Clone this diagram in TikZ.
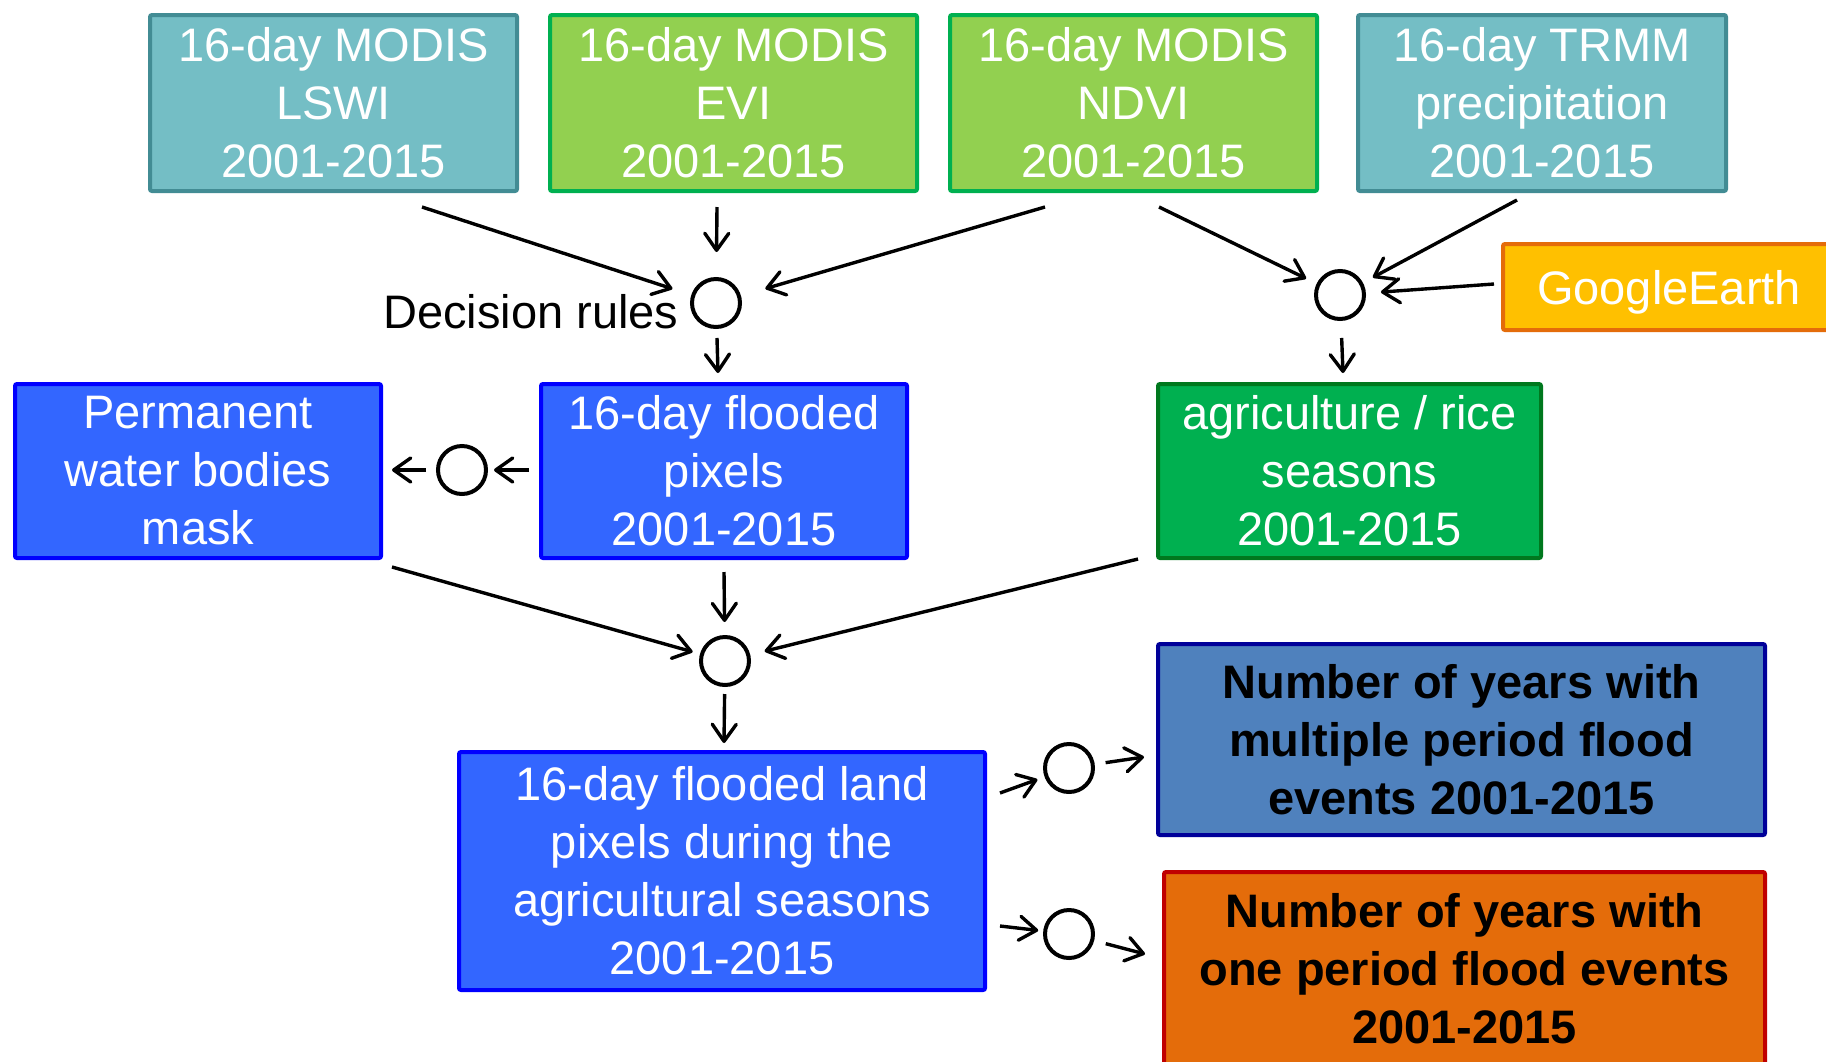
\documentclass[tikz,border=0pt]{standalone}
\usepackage{fontspec}
\setmainfont{Liberation Sans}
\usetikzlibrary{arrows.meta}
\definecolor{tealfill}{RGB}{116,190,197}
\definecolor{tealline}{RGB}{66,140,148}
\definecolor{limefill}{RGB}{146,208,80}
\definecolor{limeline}{RGB}{0,176,80}
\definecolor{goldfill}{RGB}{255,192,0}
\definecolor{goldline}{RGB}{228,108,10}
\definecolor{bluefill}{RGB}{51,102,255}
\definecolor{blueline}{RGB}{0,0,255}
\definecolor{agrifill}{RGB}{0,176,80}
\definecolor{agriline}{RGB}{0,120,30}
\definecolor{multifill}{RGB}{79,129,189}
\definecolor{multiline}{RGB}{0,0,153}
\definecolor{onefill}{RGB}{228,108,10}
\definecolor{oneline}{RGB}{192,0,0}
\begin{document}
\begin{tikzpicture}[x=0.5pt,y=-0.5pt,
  txt/.style={font=\fontsize{23.5pt}{29pt}\selectfont, align=center},
  box/.style={txt, rectangle, draw, line width=2pt, inner sep=0pt, outer sep=0pt, text=white, rounded corners=1pt},
  boldbox/.style={box, text=black, font=\fontsize{23.5pt}{29pt}\selectfont\bfseries},
  ring/.style={circle, draw=black, line width=2pt, minimum size=24pt, inner sep=0pt, outer sep=0pt},
  arr/.style={line width=1.7pt, -{Straight Barb[length=8.5pt,width=12pt,round]}},
]
\useasboundingbox[fill=white] (0,0) rectangle (1826,1061);

% boxes
\node[box, fill=tealfill, draw=tealline, minimum width=183.5pt, minimum height=88pt] (lswi) at (333.5,103) {16-day MODIS\\LSWI\\2001-2015};
\node[box, fill=limefill, draw=limeline, minimum width=183.5pt, minimum height=88pt] (evi) at (733.5,103) {16-day MODIS\\EVI\\2001-2015};
\node[box, fill=limefill, draw=limeline, minimum width=183.5pt, minimum height=88pt] (ndvi) at (1133.5,103) {16-day MODIS\\NDVI\\2001-2015};
\node[box, fill=tealfill, draw=tealline, minimum width=184pt, minimum height=88pt] (trmm) at (1542,103) {16-day TRMM\\precipitation\\2001-2015};
\node[box, fill=goldfill, draw=goldline, minimum width=166pt, minimum height=43pt, text depth=0pt] (google) at (1669,287) {GoogleEarth};
\node[box, fill=bluefill, draw=blueline, minimum width=183pt, minimum height=87pt] (perm) at (198,471) {Permanent\\water bodies\\mask};
\node[box, fill=bluefill, draw=blueline, minimum width=183pt, minimum height=87pt] (flood) at (724,471) {16-day flooded\\pixels\\2001-2015};
\node[box, fill=agrifill, draw=agriline, minimum width=191.5pt, minimum height=87pt] (agri) at (1349.5,471) {agriculture / rice\\seasons\\2001-2015};
\node[box, fill=bluefill, draw=blueline, minimum width=263pt, minimum height=119pt] (land) at (722,871) {16-day flooded land\\pixels during the\\agricultural seasons\\2001-2015};
\node[boldbox, fill=multifill, draw=multiline, minimum width=303.5pt, minimum height=95.5pt] (multi) at (1461.5,739.5) {Number of years with\\multiple period flood\\events 2001-2015};
\node[boldbox, fill=onefill, draw=oneline, minimum width=300.5pt, minimum height=97pt] (one) at (1464.5,969) {Number of years with\\one period flood events\\2001-2015};

% circles
\node[ring] (dr) at (716,303) {};
\node[ring] (rc) at (1340,295) {};
\node[ring] (lc) at (462,470) {};
\node[ring] (mc) at (725,661) {};
\node[ring] (ca) at (1069,768) {};
\node[ring] (cb) at (1069,934) {};

\node[txt, anchor=base east, inner sep=0pt] (drlabel) at (679,328) {Decision rules};

% connector end points
\coordinate (lswiout) at (422,207);
\coordinate (eviout) at (717,207);
\coordinate (ndviouta) at (1045,207);
\coordinate (ndvioutb) at (1159,207);
\coordinate (trmmout) at (1517,200);
\coordinate (googleout) at (1494,284);
\coordinate (floodin) at (718,373);
\coordinate (agriin) at (1343,373);
\coordinate (floodoutl) at (529,470);
\coordinate (permin) at (392,470);
\coordinate (permout) at (392,567);
\coordinate (floodoutb) at (724,572);
\coordinate (agriout) at (1138,559);
\coordinate (landin) at (724,743);
\coordinate (landouta) at (1000,793);
\coordinate (landoutb) at (1000,926);
\coordinate (multiin) at (1144,757);
\coordinate (onein) at (1145,954);

% connectors
\draw[arr, shorten >=10.9pt] (lswiout) -- (dr);
\draw[arr, shorten >=13.5pt] (eviout) -- (dr);
\draw[arr, shorten >=13.7pt] (ndviouta) -- (dr);
\draw[arr, shorten <=5.5pt] (dr) -- (floodin);
\draw[arr, shorten >=6.8pt] (ndvioutb) -- (rc);
\draw[arr, shorten >=6.6pt] (trmmout) -- (rc);
\draw[arr, shorten >=8.5pt] (googleout) -- (rc);
\draw[arr, shorten <=9.5pt] (rc) -- (agriin);
\draw[arr, shorten >=4pt] (floodoutl) -- (lc);
\draw[arr, shorten <=6pt] (lc) -- (permin);
\draw[arr, shorten >=4.8pt] (permout) -- (mc);
\draw[arr, shorten >=7.5pt] (floodoutb) -- (mc);
\draw[arr, shorten >=8.4pt] (agriout) -- (mc);
\draw[arr, shorten <=4.5pt] (mc) -- (landin);
\draw[arr, shorten >=4.8pt] (landouta) -- (ca);
\draw[arr, shorten <=6.5pt] (ca) -- (multiin);
\draw[arr, shorten >=3.5pt] (landoutb) -- (cb);
\draw[arr, shorten <=7pt] (cb) -- (onein);
\end{tikzpicture}
\end{document}
